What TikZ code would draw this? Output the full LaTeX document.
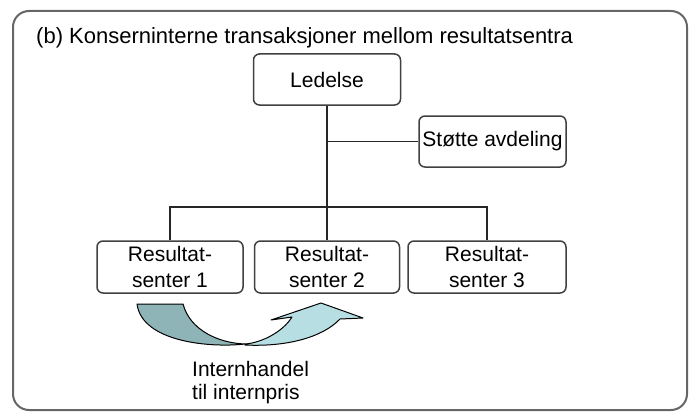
\documentclass[tikz,border=0pt]{standalone}
\usepackage{fontspec}
\setmainfont{Liberation Sans}
\definecolor{arrowdark}{RGB}{143,180,183}
\definecolor{arrowlight}{RGB}{183,223,227}

\begin{document}
\begin{tikzpicture}[x=1pt,y=-1pt,
  box/.style={draw=black!75,line width=1.5pt,rounded corners=6pt,fill=white,
    align=center,inner sep=0pt,minimum height=52pt,font=\fontsize{21}{26}\selectfont},
  link/.style={draw=black!85,line width=1.8pt}]
\useasboundingbox (0,0) rectangle (691,412);
% Frame and title
\draw[black!60,line width=2pt,rounded corners=16pt] (13,11) rectangle (687,410);
\node[anchor=base west,inner sep=0pt,font=\fontsize{22}{26}\selectfont] (title) at (36,44)
  {(b) Konserninterne transaksjoner mellom resultatsentra};

% Nodes (units)
\node[box,minimum width=147pt,minimum height=51pt] (led) at (327,79.5) {Ledelse};
\node[box,minimum width=147pt,minimum height=51pt] (stotte) at (492.5,141.5) {Støtte avdeling};
\node[box,minimum width=146pt] (rs1) at (170,267) {Resultat-\\senter 1};
\node[box,minimum width=145pt] (rs2) at (327,267) {Resultat-\\senter 2};
\node[box,minimum width=158pt] (rs3) at (487,267) {Resultat-\\senter 3};
\coordinate (bar) at (327,207);
\coordinate (junc) at (327,141.5);

% Edges (lines of command)
\draw[link] (led) -- (bar);
\draw[link] (junc) -- (stotte);
\draw[link] (rs1.north) |- (bar) -| (rs3.north);
\draw[link] (bar) -- (rs2);

% Internal trade arrow
\draw[fill=arrowdark,line width=1pt,line join=round] (137,304) -- (183,304)
  .. controls (190,330) and (218,343) .. (245,344)
  .. controls (210,348) and (142,342) .. (137,304) -- cycle;
\draw[fill=arrowlight,line width=1pt,line join=round] (245,344)
  .. controls (260,343) and (282,333) .. (292,317) -- (271,320) -- (321,303)
  -- (363,318) -- (340,319) .. controls (322,338) and (285,347) .. (245,345) -- cycle;
\node[anchor=north west,inner sep=0pt,align=left,font=\fontsize{21}{23}\selectfont] (trade) at (192,361)
  {Internhandel\\til internpris};
\end{tikzpicture}
\end{document}
